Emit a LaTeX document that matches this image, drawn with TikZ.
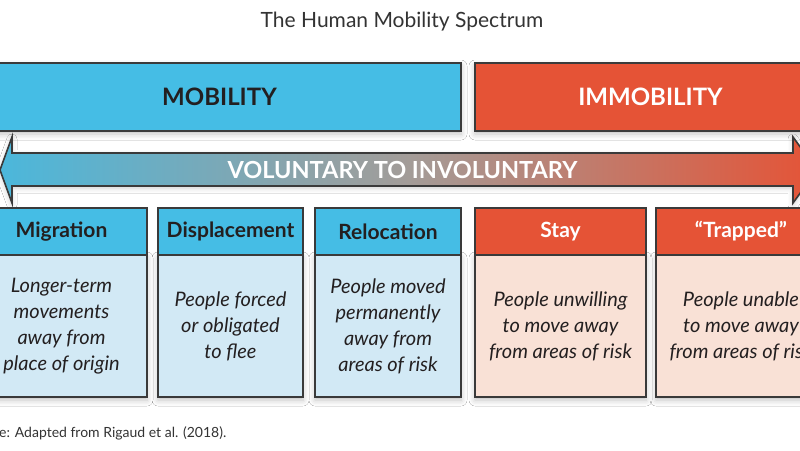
\documentclass[tikz,border=0pt]{standalone}
\usepackage{fontspec}
\setmainfont{Lato}
\usetikzlibrary{shadows.blur}
\definecolor{mblue}{HTML}{45BDE5}
\definecolor{lblue}{HTML}{D2E9F5}
\definecolor{mred}{HTML}{E55336}
\definecolor{peach}{HTML}{F9E1D6}
\definecolor{bord}{HTML}{3A3A3A}
\definecolor{ink}{HTML}{231F20}
\definecolor{titlec}{HTML}{333333}
\definecolor{midgrad}{HTML}{A39C98}
\begin{document}
\begin{tikzpicture}[x=1pt,y=-1pt,
  box/.style={draw=bord, line width=1.6pt, inner sep=0pt, outer sep=0pt},
  sh/.style={blur shadow={shadow xshift=0pt, shadow yshift=-3pt, shadow blur radius=6pt, shadow opacity=25}},
  banner/.style={box, sh, minimum height=68pt, font=\fontsize{24}{26}\selectfont\bfseries},
  hdr/.style={box, minimum height=47pt, font=\fontsize{21}{24}\selectfont\bfseries},
  bodybox/.style={box, sh, minimum height=142pt, align=center, font=\fontsize{20}{26}\selectfont\itshape, text=ink},
  bluehdr/.style={hdr, fill=mblue, text=ink},
  redhdr/.style={hdr, fill=mred, text=white},
  bluebody/.style={bodybox, fill=lblue},
  redbody/.style={bodybox, fill=peach}]
\useasboundingbox (0,0) rectangle (800,450);
\fill[white] (0,0) rectangle (800,450);

\node[font=\fontsize{21}{24}\selectfont, text=titlec] (title) at (402,22) {The Human Mobility Spectrum};

\node[banner, fill=mblue, minimum width=483pt, text=ink] (mob) at (219.5,97) {MOBILITY};
\node[banner, fill=mred, minimum width=351pt, text=white] (immob) at (650.5,97) {IMMOBILITY};

% gradient arrow
\shade[left color=mblue!95!black!95, right color=mred, middle color=midgrad, blur shadow={shadow xshift=0pt, shadow yshift=-2pt, shadow blur radius=5pt, shadow opacity=20}]
  (0,170) -- (12,137) -- (12,153) -- (793,153) -- (793,137) -- (817,170) -- (793,203) -- (793,186) -- (12,186) -- (12,203) -- cycle;
\draw[bord, line width=1.6pt, line join=miter]
  (0,170) -- (12,137) -- (12,153) -- (793,153) -- (793,137) -- (817,170) -- (793,203) -- (793,186) -- (12,186) -- (12,203) -- cycle;
\node[font=\fontsize{23.5}{26}\selectfont\bfseries, text=white] (vol) at (402.5,170) {VOLUNTARY TO INVOLUNTARY};

% columns
\node[bluebody, minimum width=171pt] (b1) at (61.5,326) {Longer-term\\movements\\away from\\place of origin};
\node[bluehdr, minimum width=171pt] (h1) at (61.5,231.5) {Migration};

\node[bluebody, minimum width=145pt] (b2) at (230.5,326) {People forced\\or obligated\\to flee};
\node[bluehdr, minimum width=145pt] (h2) at (230.5,231.5) {Displacement};

\node[bluebody, minimum width=146pt] (b3) at (388,326) {People moved\\permanently\\away from\\areas of risk};
\node[bluehdr, minimum width=146pt] (h3) at (388,231.5) {Relocation};

\node[redbody, minimum width=171pt] (b4) at (560.5,326) {People unwilling\\to move away\\from areas of risk};
\node[redhdr, minimum width=171pt] (h4) at (560.5,231.5) {Stay};

\node[redbody, minimum width=170pt] (b5) at (741,326) {People unable\\to move away\\from areas of risk};
\node[redhdr, minimum width=170pt] (h5) at (741,231.5) {“Trapped”};

\node[anchor=west, inner sep=0pt, font=\fontsize{14}{16}\selectfont, text=titlec] (src) at (-1,433) {e: Adapted from Rigaud et al. (2018).};
\end{tikzpicture}
\end{document}
